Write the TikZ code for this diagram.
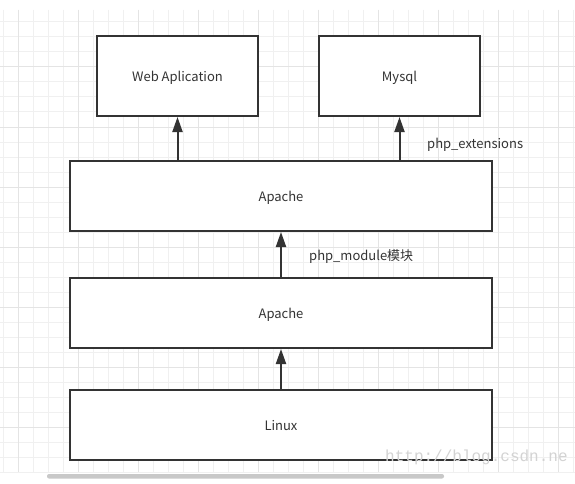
\documentclass[tikz,border=0pt]{standalone}
\usepackage{fontspec}
\setmainfont{Noto Sans CJK SC}
\newfontfamily\markfont{Liberation Mono}
\usepackage{tikz}
\usetikzlibrary{arrows.meta}

\definecolor{ink}{HTML}{333333}
\definecolor{gridminor}{HTML}{F0F0F0}
\definecolor{gridmajor}{HTML}{E4E4E4}
\definecolor{markgray}{HTML}{D3D3D3}
\definecolor{barcolor}{HTML}{C8C8C8}

\begin{document}
\begin{tikzpicture}[x=1pt, y=-1pt,
    box/.style={draw=ink, line width=2pt, fill=white, text=ink, text height=13.5pt, text depth=2pt, font=\fontsize{13}{15}\selectfont},
    link/.style={-{Triangle[length=15pt, width=10pt]}, draw=ink, line width=2pt},
    tag/.style={anchor=west, text=ink, font=\fontsize{13}{15}\selectfont, inner sep=0pt}]

% canvas
\useasboundingbox[fill=white] (0,0) rectangle (575,484);

% grid
\foreach \i in {0,...,38} \draw[gridminor, line width=1pt] (3.3+15*\i, 10) -- (3.3+15*\i, 472);
\foreach \j in {0,...,30} \draw[gridminor, line width=1pt] (0, 22+15*\j) -- (575, 22+15*\j);
\foreach \i in {0,...,9} \draw[gridmajor, line width=1pt] (18.3+60*\i, 10) -- (18.3+60*\i, 472);
\foreach \j in {0,...,6} \draw[gridmajor, line width=1pt] (0, 67+60*\j) -- (575, 67+60*\j);

% boxes
\node[box, minimum width=161pt, minimum height=80pt] (web) at (177.5, 76) {Web Aplication};
\node[box, minimum width=161pt, minimum height=80pt] (mysql) at (399.5, 76) {Mysql};
\node[box, minimum width=422pt, minimum height=70pt] (apache2) at (281, 196) {Apache};
\node[box, minimum width=422pt, minimum height=70pt] (apache1) at (281, 313) {Apache};
\node[box, minimum width=422pt, minimum height=70pt] (linux) at (281, 425) {Linux};

% arrows
\draw[link] (apache2.north -| web) -- (web.south);
\draw[link] (apache2.north -| mysql) -- (mysql.south);
\draw[link] (apache1.north) -- (apache2.south);
\draw[link] (linux.north) -- (apache1.south);

% labels
\node[tag] (ext) at (427, 144.5) {php\_extensions};
\node[tag] (mod) at (309, 257) {php\_module模块};

% watermark and scroll bar
\node[anchor=base west, inner sep=0pt, text=markgray, font=\markfont\fontsize{16}{16}\selectfont] (mark) at (385, 461) {http://blog.csdn.ne};
\fill[barcolor, rounded corners=2pt] (47, 474) rectangle (444, 478.5);

\end{tikzpicture}
\end{document}
